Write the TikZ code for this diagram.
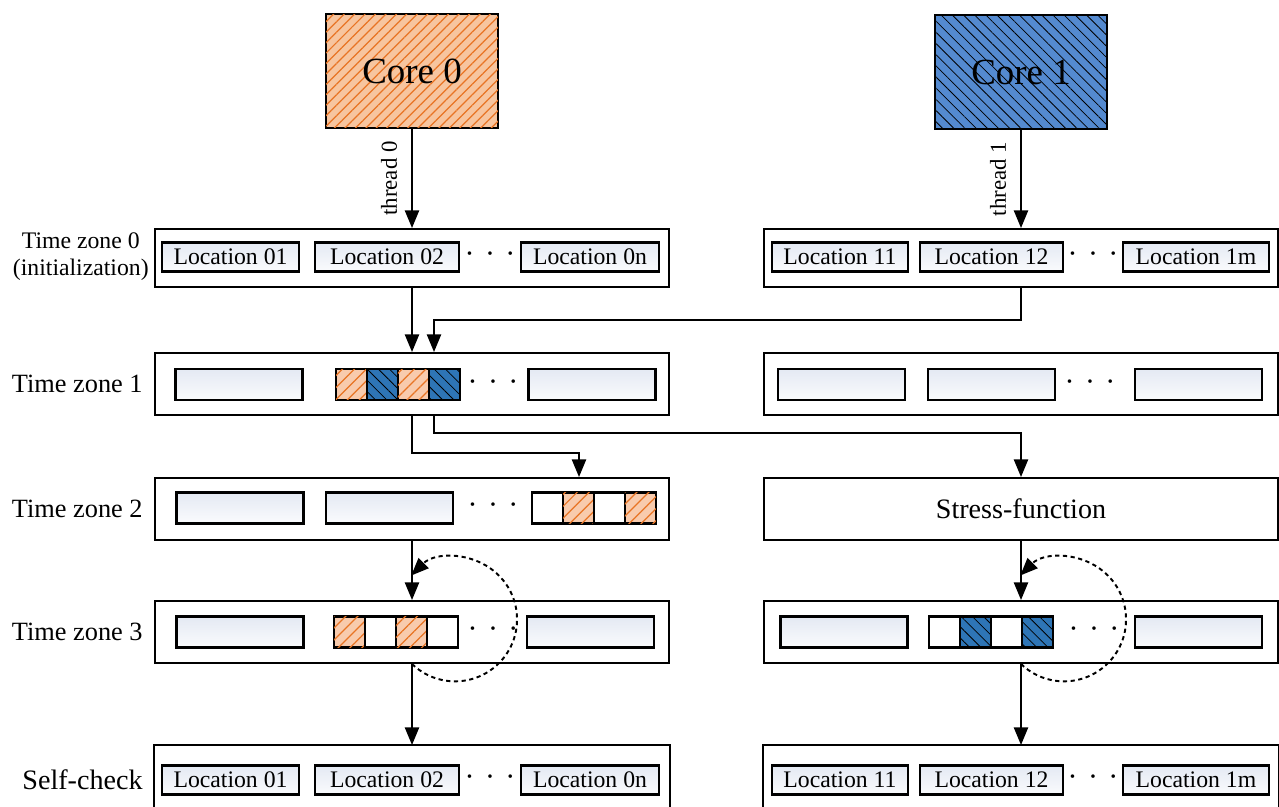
\documentclass[tikz,border=0pt]{standalone}
\usepackage{fontspec}
\setmainfont{Liberation Serif}
\usetikzlibrary{arrows.meta, positioning, patterns.meta}

\definecolor{locTop}{RGB}{228,233,243}
\definecolor{locBot}{RGB}{250,251,253}
\definecolor{coreOrange}{RGB}{247,197,159}
\definecolor{cellOrange}{RGB}{248,203,173}
\definecolor{hatchOrange}{RGB}{232,116,36}
\definecolor{coreBlue}{RGB}{84,138,208}
\definecolor{cellBlue}{RGB}{46,117,182}

\newcommand{\fsz}[2]{\fontsize{#1}{#2}\selectfont}
\newcommand{\threedots}{\textperiodcentered\hspace{6pt}\textperiodcentered\hspace{6pt}\textperiodcentered}

\begin{document}
\begin{tikzpicture}[
  x=0.02cm, y=-0.02cm,
  ohatch/.style={postaction={pattern={Lines[angle=45, distance=#1, line width=0.7pt]}, pattern color=hatchOrange}},
  ohatch/.default=4.8pt,
  bhatch/.style={postaction={pattern={Lines[angle=-45, distance=#1, line width=0.45pt]}, pattern color=black}},
  bhatch/.default=4.5pt,
  core/.style={draw=black, line width=1.2pt, minimum width=3.44cm, minimum height=2.28cm, font=\fsz{21}{25}},
  zone/.style={draw=black, line width=1.1pt, fill=white, minimum width=10.3cm, minimum height=1.24cm, inner sep=0pt},
  loc/.style={draw=black, line width=1.4pt, top color=locTop, bottom color=locBot,
              minimum height=0.58cm, inner sep=0pt, font=\fsz{13.5}{16}},
  bar/.style={loc, minimum width=2.54cm, minimum height=0.62cm},
  cell/.style={draw=black, line width=1.4pt, fill=white, minimum size=0.62cm, inner sep=0pt, outer sep=0pt},
  ocell/.style={cell, fill=cellOrange, ohatch},
  bcell/.style={cell, fill=cellBlue, bhatch},
  dots/.style={font=\fsz{17}{20}, inner sep=0pt, text height=7.8pt, text depth=0pt},
  lbl/.style={font=\fsz{15}{18}, anchor=east, inner sep=0pt},
  thr/.style={font=\fsz{13}{15}, midway, rotate=90, anchor=south, inner sep=8pt},
  arr/.style={line width=1.1pt, -{Triangle[length=10pt, width=8pt]}},
  loop/.style={arr, dash pattern=on 2.4pt off 2pt}
]
  \useasboundingbox (0,0) rectangle (1279,807);

  % cores
  \node[core, fill=coreOrange, ohatch=4.2pt] (core0) at (412,71) {Core 0};
  \node[core, fill=coreBlue, bhatch] (core1) at (1021,72) {Core 1};

  % time zone 0
  \node[zone, minimum height=1.16cm] (z0l) at (412,258) {};
  \node[zone, minimum height=1.16cm] (z0r) at (1021,258) {};
  \node[lbl, font=\fsz{13.5}{15.5}, align=center] (lbl0) at (149,257) {Time zone 0\\(initialization)};
  \node[loc, minimum width=2.74cm] (l01) at (230.5,257) {Location 01};
  \node[loc, minimum width=2.88cm] (l02) at (387,257) {Location 02};
  \node[dots] (d0l) at (490,257) {\threedots};
  \node[loc, minimum width=2.76cm] (l0n) at (590,257) {Location 0n};
  \node[loc, minimum width=2.72cm] (l11) at (840,257) {Location 11};
  \node[loc, minimum width=2.86cm] (l12) at (991.5,257) {Location 12};
  \node[dots] (d0r) at (1093,257) {\threedots};
  \node[loc, minimum width=2.92cm] (l1m) at (1196,257) {Location 1m};

  % time zone 1
  \node[zone] (z1l) at (412,384) {};
  \node[zone] (z1r) at (1021,384) {};
  \node[lbl] (lbl1) at (143,384) {Time zone 1};
  \node[bar] (b1a) at (239,384.5) {};
  \node[ocell] (c11) at (351.5,384.5) {};
  \node[bcell, right=0pt of c11] (c12) {};
  \node[ocell, right=0pt of c12] (c13) {};
  \node[bcell, right=0pt of c13] (c14) {};
  \node[dots] (d1l) at (493,384.5) {\threedots};
  \node[bar] (b1b) at (592,384.5) {};
  \node[bar] (b1c) at (841.5,384.5) {};
  \node[bar] (b1d) at (991.5,384.5) {};
  \node[dots] (d1r) at (1090,384.5) {\threedots};
  \node[bar] (b1e) at (1198.5,384.5) {};

  % time zone 2
  \node[zone] (z2l) at (412,509) {};
  \node[zone, font=\fsz{16}{19}] (stress) at (1021,509) {Stress-function};
  \node[lbl] (lbl2) at (143,509) {Time zone 2};
  \node[bar] (b2a) at (240,508) {};
  \node[bar] (b2b) at (389.5,508) {};
  \node[dots] (d2l) at (493,508) {\threedots};
  \node[cell] (c21) at (547.5,508) {};
  \node[ocell, right=0pt of c21] (c22) {};
  \node[cell, right=0pt of c22] (c23) {};
  \node[ocell, right=0pt of c23] (c24) {};

  % time zone 3
  \node[zone] (z3l) at (412,632) {};
  \node[zone] (z3r) at (1021,632) {};
  \node[lbl] (lbl3) at (143,632) {Time zone 3};
  \node[bar] (b3a) at (240,632) {};
  \node[ocell] (c31) at (349.5,632) {};
  \node[cell, right=0pt of c31] (c32) {};
  \node[ocell, right=0pt of c32] (c33) {};
  \node[cell, right=0pt of c33] (c34) {};
  \node[dots] (d3l) at (493,632) {\threedots};
  \node[bar] (b3b) at (590.5,632) {};
  \node[bar] (b3c) at (844,632) {};
  \node[cell] (c35) at (944.5,632) {};
  \node[bcell, right=0pt of c35] (c36) {};
  \node[cell, right=0pt of c36] (c37) {};
  \node[bcell, right=0pt of c37] (c38) {};
  \node[dots] (d3r) at (1094,632) {\threedots};
  \node[bar] (b3d) at (1198.5,632) {};

  % self-check
  \node[zone, draw=none, minimum height=1.22cm] (scl) at (412,776.5) {};
  \node[zone, draw=none, minimum height=1.22cm] (scr) at (1021,776.5) {};
  \draw[line width=1.1pt] (scl.south west) |- (scl.north east) -- (scl.south east);
  \draw[line width=1.1pt] (scr.south west) |- (scr.north east) -- (scr.south east);
  \node[lbl, font=\fsz{16}{19}] (lbl4) at (143,780) {Self-check};
  \node[loc, minimum width=2.74cm] (s01) at (230.5,780) {Location 01};
  \node[loc, minimum width=2.88cm] (s02) at (387,780) {Location 02};
  \node[dots] (d4l) at (490,780) {\threedots};
  \node[loc, minimum width=2.76cm] (s0n) at (590,780) {Location 0n};
  \node[loc, minimum width=2.72cm] (s11) at (840,780) {Location 11};
  \node[loc, minimum width=2.86cm] (s12) at (991.5,780) {Location 12};
  \node[dots] (d4r) at (1093,780) {\threedots};
  \node[loc, minimum width=2.92cm] (s1m) at (1196,780) {Location 1m};

  % connectors
  \coordinate (j1) at (434,320);
  \coordinate (j2) at (579,453);
  \coordinate (j3) at (434,433);
  \draw[arr] (core0) -- node[thr]{thread 0} (z0l);
  \draw[arr] (core1) -- node[thr]{thread 1} (z0r);
  \draw[arr] (z0l) -- (z1l);
  \draw[arr] (z0r.south) |- (j1) -- (j1 |- z1l.north);
  \draw[arr] (z1l.south) |- (j2) -- (j2 |- z2l.north);
  \draw[arr] (j3 |- z1l.south) -- (j3) -| (stress.north);
  \draw[arr] (z2l) -- (z3l);
  \draw[arr] (stress) -- (z3r);
  \draw[arr] (z3l) -- (scl);
  \draw[arr] (z3r) -- (scr);
  \draw[loop] (z3l.south) arc[start angle=226, end angle=495, radius=1.24cm];
  \draw[loop] (z3r.south) arc[start angle=226, end angle=495, radius=1.24cm];
\end{tikzpicture}
\end{document}
